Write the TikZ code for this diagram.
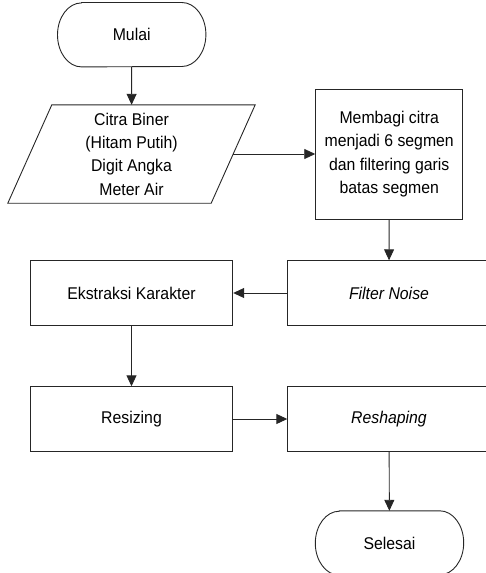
\documentclass[tikz,border=0pt]{standalone}
\usepackage{fontspec}
\setmainfont{Liberation Sans}[FakeStretch=0.93]
\usetikzlibrary{arrows.meta}
\begin{document}
\begin{tikzpicture}[x=1pt,y=-1pt,
  every node/.style={font=\fontsize{17}{23.3}\selectfont, align=center, inner sep=0pt},
  line/.style={draw=black!85, line width=0.9pt},
  flow/.style={line, -{Triangle[length=11pt,width=10pt]}},
  procbox/.style={line, rectangle, minimum width=#1, minimum height=64.5pt},
  procbox/.default=202.5pt,
  termbox/.style={rectangle, minimum width=148pt, minimum height=64pt},
  iobox/.style={rectangle, minimum width=203pt, minimum height=98pt}
]
\useasboundingbox (0,0) rectangle (486,573);
\clip (0,0) rectangle (486,573);

% start and end terminals (elliptic ends)
\node[termbox] (mulai) at (131.7,34.7) {Mulai};
\node[termbox] (selesai) at (389.5,543) {Selesai};
\foreach \t in {mulai,selesai}{
  \draw[line] ([xshift=24pt]\t.north west) -- ([xshift=-24pt]\t.north east)
    arc[start angle=90, end angle=-90, x radius=24pt, y radius=32pt]
    -- ([xshift=24pt]\t.south west)
    arc[start angle=270, end angle=90, x radius=24pt, y radius=32pt] -- cycle;
}

% input data (parallelogram)
\node[iobox] (input) at (131.5,154) {Citra Biner\\(Hitam Putih)\\Digit Angka\\Meter Air};
\draw[line] ([xshift=22pt]input.north west) -- ([xshift=22pt]input.north east)
  -- ([xshift=-22pt]input.south east) -- ([xshift=-22pt]input.south west) -- cycle;

% processing steps
\node[procbox=147pt, minimum height=130pt] (bagi) at (389.2,154.2)
  {Membagi citra\\menjadi 6 segmen\\dan filtering garis\\batas segmen};
\node[procbox] (noise) at (389,293) {\itshape Filter Noise};
\node[procbox] (ekstrak) at (131.5,293) {Ekstraksi Karakter};
\node[procbox] (resize) at (131.5,419) {Resizing};
\node[procbox] (reshape) at (389,419) {\itshape Reshaping};

% connectors
\draw[flow] (mulai) -- (input);
\draw[flow] (input.east) -- (bagi.west |- input.east);
\draw[flow] (bagi) -- (noise);
\draw[flow] (noise) -- (ekstrak);
\draw[flow] (ekstrak) -- (resize);
\draw[flow] (resize) -- (reshape);
\draw[flow] (reshape) -- (selesai);
\end{tikzpicture}
\end{document}
